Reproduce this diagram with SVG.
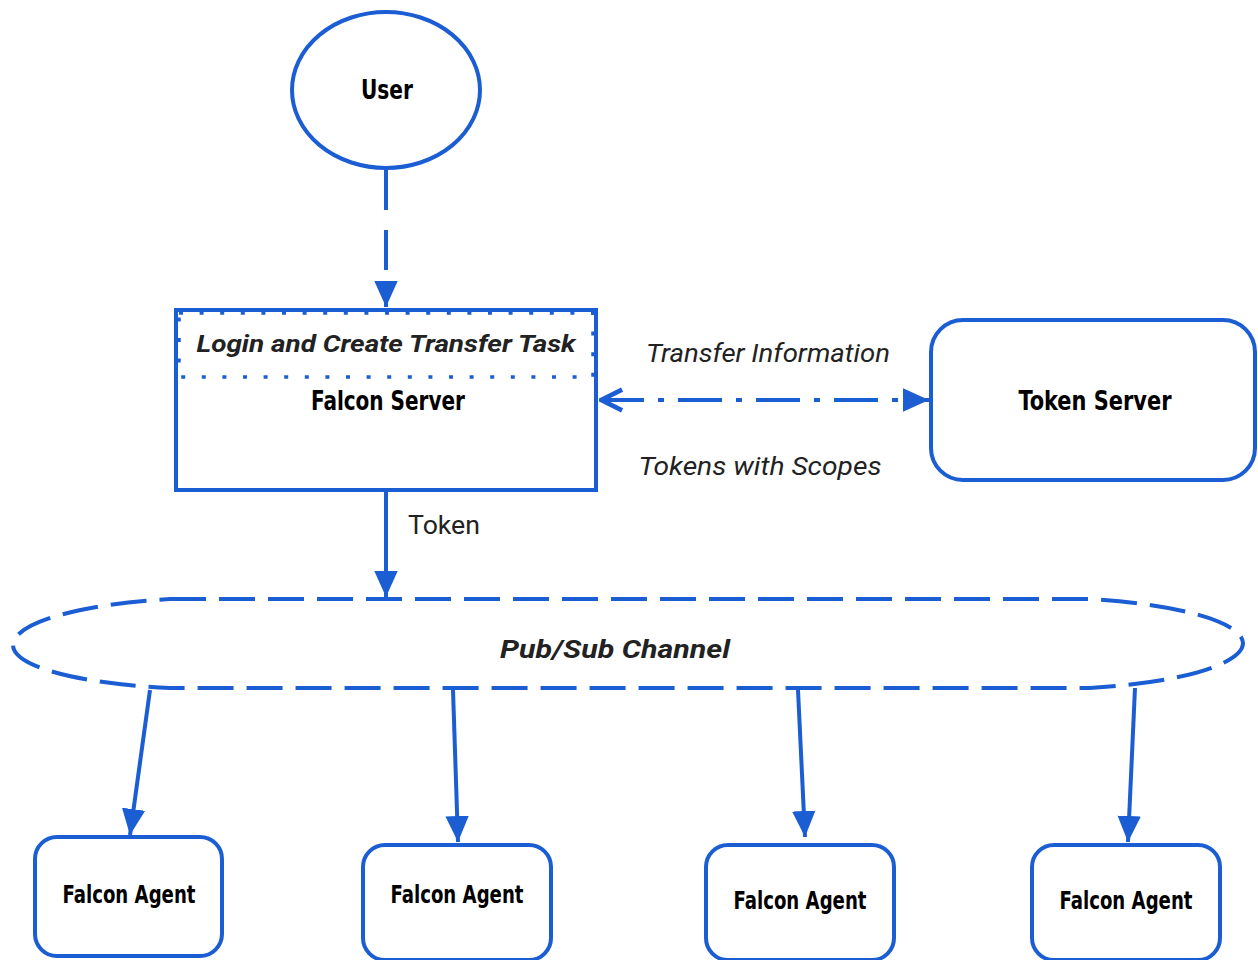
<svg xmlns="http://www.w3.org/2000/svg" width="1258" height="960" viewBox="0 0 1258 960">
<style>
.s{fill:#fff;stroke:#1b5dd3;stroke-width:4}
.c{fill:none;stroke:#1b5dd3;stroke-width:4}
.b{font-family:"DejaVu Sans Condensed","Liberation Sans Narrow","DejaVu Sans",sans-serif;font-weight:bold;fill:#000;text-anchor:middle}
.i{font-family:"Roboto","Liberation Sans",Arial,sans-serif;font-style:italic;fill:#222;text-anchor:middle}
</style>
<defs>
<marker id="tri" viewBox="0 0 20 20" refX="20" refY="10" markerWidth="26" markerHeight="26" orient="auto" markerUnits="userSpaceOnUse"><path d="M0,1 L20,10 L0,19 Z" fill="#1b5dd3"/></marker>
<marker id="open" viewBox="0 0 20 20" refX="1" refY="10" markerWidth="26" markerHeight="26" orient="auto" markerUnits="userSpaceOnUse"><path d="M18,2 L2,10 L18,18" fill="none" stroke="#1b5dd3" stroke-width="3.5"/></marker>
</defs>
<g id="connectors">
<line class="c" x1="386" y1="170" x2="386" y2="307" stroke-dasharray="40,20" marker-end="url(#tri)"/>
<line class="c" x1="600" y1="400" x2="929" y2="400" stroke-dasharray="44,14,6,14" marker-start="url(#open)" marker-end="url(#tri)"/>
<line class="c" x1="386" y1="490" x2="386" y2="597" marker-end="url(#tri)"/>
<line class="c" x1="150" y1="690" x2="130" y2="835" marker-end="url(#tri)"/>
<line class="c" x1="453" y1="690" x2="458" y2="842" marker-end="url(#tri)"/>
<line class="c" x1="798" y1="690" x2="805" y2="837" marker-end="url(#tri)"/>
<line class="c" x1="1135" y1="688" x2="1128" y2="842" marker-end="url(#tri)"/>
<text class="i" x="768" y="362" font-size="26" textLength="244" lengthAdjust="spacingAndGlyphs">Transfer Information</text>
<text class="i" x="760" y="475" font-size="26" textLength="243" lengthAdjust="spacingAndGlyphs">Tokens with Scopes</text>
<text x="408" y="534" font-size="25" font-family="Roboto,Liberation Sans,Arial,sans-serif" fill="#222" textLength="72" lengthAdjust="spacingAndGlyphs">Token</text>
</g>
<g id="user">
<ellipse class="s" cx="386" cy="90" rx="94" ry="78"/>
<text class="b" x="387" y="99" font-size="26" textLength="52" lengthAdjust="spacingAndGlyphs">User</text>
</g>
<g id="falcon-server">
<rect class="s" x="176" y="310" width="420" height="180"/>
<rect x="179" y="313" width="414" height="64" fill="none" stroke="#1b5dd3" stroke-width="3.5" stroke-dasharray="4,16.6"/>
<text class="i" x="386" y="352" font-size="24" font-weight="bold" fill="#111" textLength="379" lengthAdjust="spacingAndGlyphs">Login and Create Transfer Task</text>
<text class="b" x="388" y="410" font-size="26" textLength="154" lengthAdjust="spacingAndGlyphs">Falcon Server</text>
</g>
<g id="token-server">
<rect class="s" x="931" y="320" width="324" height="160" rx="32"/>
<text class="b" x="1095" y="410" font-size="26" textLength="153" lengthAdjust="spacingAndGlyphs">Token Server</text>
</g>
<g id="pubsub">
<path d="M170,599 L1090,599 C1190,605 1243,625 1243,643 C1243,662 1190,682 1090,688 L170,688 C70,683 13,665 13,645 C13,625 70,605 170,599 Z" fill="none" stroke="#1b5dd3" stroke-width="4" stroke-dasharray="36,13"/>
<text class="i" x="615" y="658" font-size="25" font-weight="bold" fill="#111" textLength="230" lengthAdjust="spacingAndGlyphs">Pub/Sub Channel</text>
</g>
<g id="agent1">
<rect class="s" x="35" y="837" width="187" height="119" rx="22"/>
<text class="b" x="129" y="903" font-size="24" textLength="133" lengthAdjust="spacingAndGlyphs">Falcon Agent</text>
</g>
<g id="agent2">
<rect class="s" x="363" y="845" width="188" height="115" rx="22"/>
<text class="b" x="457" y="903" font-size="24" textLength="133" lengthAdjust="spacingAndGlyphs">Falcon Agent</text>
</g>
<g id="agent3">
<rect class="s" x="706" y="845" width="188" height="115" rx="22"/>
<text class="b" x="800" y="909" font-size="24" textLength="133" lengthAdjust="spacingAndGlyphs">Falcon Agent</text>
</g>
<g id="agent4">
<rect class="s" x="1032" y="845" width="188" height="115" rx="22"/>
<text class="b" x="1126" y="909" font-size="24" textLength="133" lengthAdjust="spacingAndGlyphs">Falcon Agent</text>
</g>
</svg>
